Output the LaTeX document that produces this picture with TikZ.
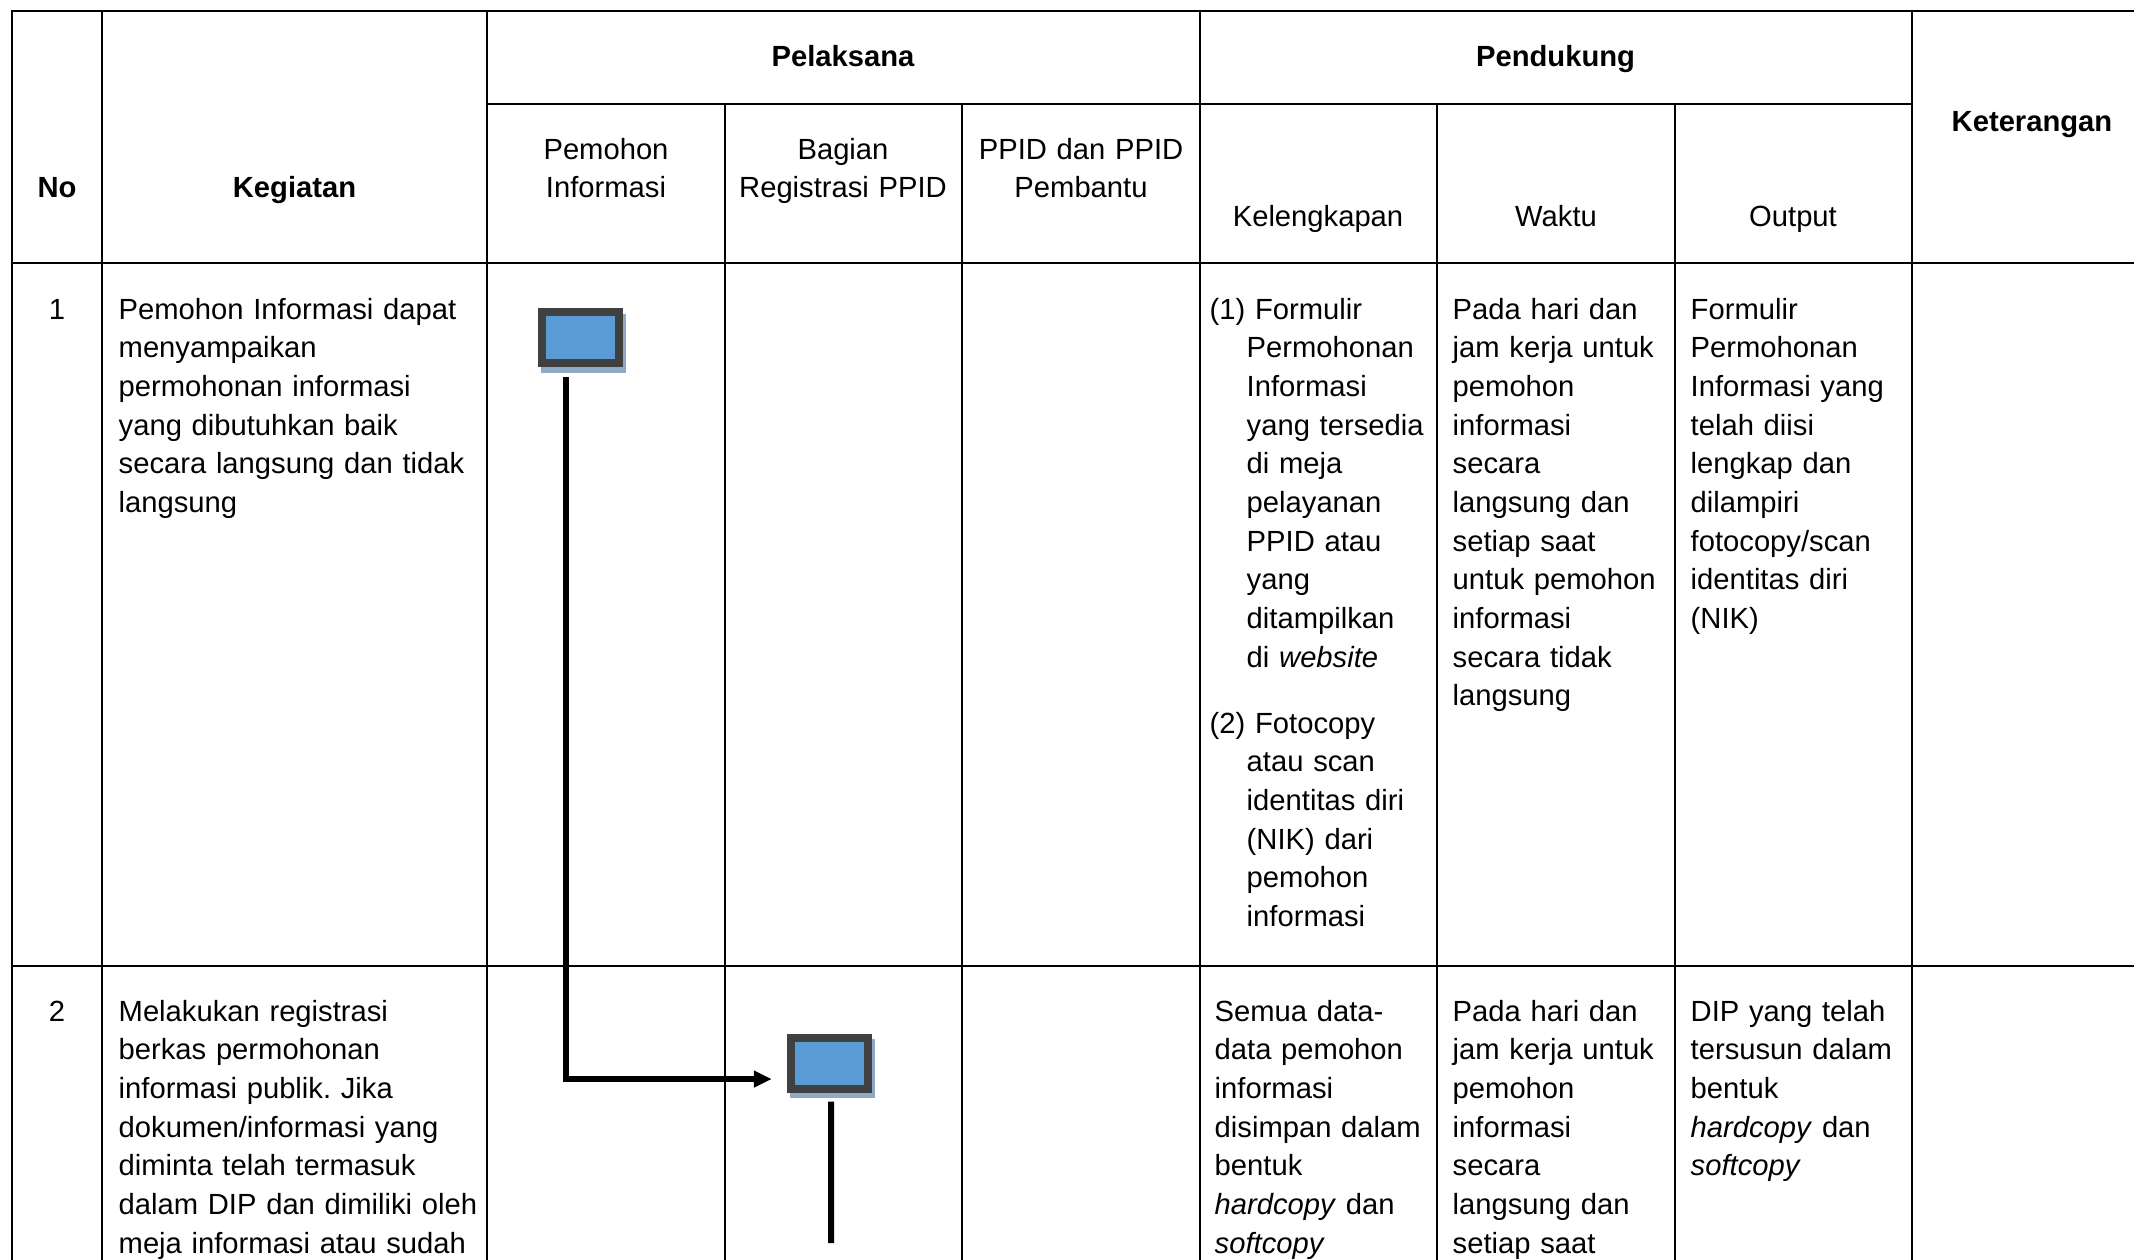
\documentclass[tikz,border=0pt]{standalone}
\usepackage{fontspec}
\setmainfont{Liberation Sans}
\usepackage{tikz}
\usetikzlibrary{arrows.meta, positioning, shadows}

\definecolor{boxblue}{RGB}{91,155,213}
\definecolor{boxedge}{RGB}{64,64,64}
\definecolor{boxshade}{RGB}{143,170,196}

\begin{document}
\begin{tikzpicture}[
        x=0.01cm, y=-0.01cm,
        every node/.style={inner sep=0pt, font=\fontsize{8.3}{11}\selectfont\frenchspacing},
        grid/.style={line width=0.02cm, line cap=rect},
        head/.style={anchor=base, font=\fontsize{8.3}{11}\selectfont\bfseries},
        subhead/.style={anchor=base, align=center, text width=2.3cm},
        cell/.style={anchor=base west, align=left, text width=#1},
        cell/.default=2.3cm,
        proc/.style={
            rectangle, draw=boxedge, fill=boxblue, line width=0.08cm,
            minimum width=0.773cm, minimum height=0.51cm,
            drop shadow={shadow xshift=0.03cm, shadow yshift=-0.055cm,
                fill=boxshade, draw=boxshade, line width=0.08cm, opacity=1}
        },
        flow/.style={line width=0.06cm, -{Triangle[length=0.18cm, width=0.16cm]}},
        link/.style={line width=0.06cm}
    ]
        \useasboundingbox (0,0) rectangle (2134,1259);
        \clip (0,0) rectangle (2134,1259);

        % Table grid
        \draw[grid] (12,11) -- (2170,11);
        \draw[grid] (487,104) -- (1912,104);
        \draw[grid] (12,263) -- (2170,263);
        \draw[grid] (12,966) -- (2170,966);
        \foreach \x in {12,102,487,1199.5,1912}
            \draw[grid] (\x,11) -- (\x,1280);
        \foreach \x in {724.5,962,1437,1674.5}
            \draw[grid] (\x,104) -- (\x,1280);

        % Header
        \node[head] (hno) at (57,197) {No};
        \node[head] (hkeg) at (294.5,197) {Kegiatan};
        \node[head] (hpel) at (843,66) {Pelaksana};
        \node[head] (hpen) at (1555.5,66) {Pendukung};
        \node[head] (hket) at (2032,131) {Keterangan};
        \node[subhead] (hpem) at (606,159) {Pemohon\\Informasi};
        \node[subhead] (hbag) at (843,159) {Bagian\\Registrasi PPID};
        \node[subhead] (hppid) at (1081,159) {PPID dan PPID\\Pembantu};
        \node[subhead] (hkel) at (1318,226) {Kelengkapan};
        \node[subhead] (hwak) at (1556,226) {Waktu};
        \node[subhead] (hout) at (1793,226) {Output};

        % Row 1
        \node[anchor=base] (no1) at (57,319) {1};
        \node[cell=3.8cm] (keg1) at (118,319) {Pemohon Informasi dapat\\menyampaikan\\permohonan informasi\\yang dibutuhkan baik\\secara langsung dan tidak\\langsung};
        \node[cell=2.3cm] (kel1) at (1209,319) {\hangindent=0.37cm\hangafter=1 (1) Formulir\newline Permohonan\newline Informasi\newline yang tersedia\newline di meja\newline pelayanan\newline PPID atau\newline yang\newline ditampilkan\newline di \textit{website}\par};
        \node[cell=2.3cm] (kel1b) at (1209,733) {\hangindent=0.37cm\hangafter=1 (2) Fotocopy\newline atau scan\newline identitas diri\newline (NIK) dari\newline pemohon\newline informasi\par};
        \node[cell] (wak1) at (1452,319) {Pada hari dan\\jam kerja untuk\\pemohon\\informasi\\secara\\langsung dan\\setiap saat\\untuk pemohon\\informasi\\secara tidak\\langsung};
        \node[cell] (out1) at (1690,319) {Formulir\\Permohonan\\Informasi yang\\telah diisi\\lengkap dan\\dilampiri\\fotocopy/scan\\identitas diri\\(NIK)};

        % Row 2
        \node[anchor=base] (no2) at (57,1021) {2};
        \node[cell=3.8cm] (keg2) at (118,1021) {Melakukan registrasi\\berkas permohonan\\informasi publik. Jika\\dokumen/informasi yang\\diminta telah termasuk\\dalam DIP dan dimiliki oleh\\meja informasi atau sudah};
        \node[cell] (kel2) at (1214,1021) {Semua data-\\data pemohon\\informasi\\disimpan dalam\\bentuk\\\textit{hardcopy} dan\\\textit{softcopy}};
        \node[cell] (wak2) at (1452,1021) {Pada hari dan\\jam kerja untuk\\pemohon\\informasi\\secara\\langsung dan\\setiap saat};
        \node[cell] (out2) at (1690,1021) {DIP yang telah\\tersusun dalam\\bentuk\\\textit{hardcopy} dan\\\textit{softcopy}};

        % Process boxes
        \node[proc] (pemohon) at (580.3,337.5) {};
        \node[proc] (registrasi) at (829.5,1063) {};
        \coordinate (lanjut) at (831,1243);

        % Connectors
        \draw[flow] ([xshift=-0.14cm, yshift=-0.1cm]pemohon.south) |- ([xshift=-0.15cm, yshift=-0.16cm]registrasi.west);
        \draw[link] ([xshift=0.015cm, yshift=-0.09cm]registrasi.south) -- (lanjut);

    \end{tikzpicture}
\end{document}
